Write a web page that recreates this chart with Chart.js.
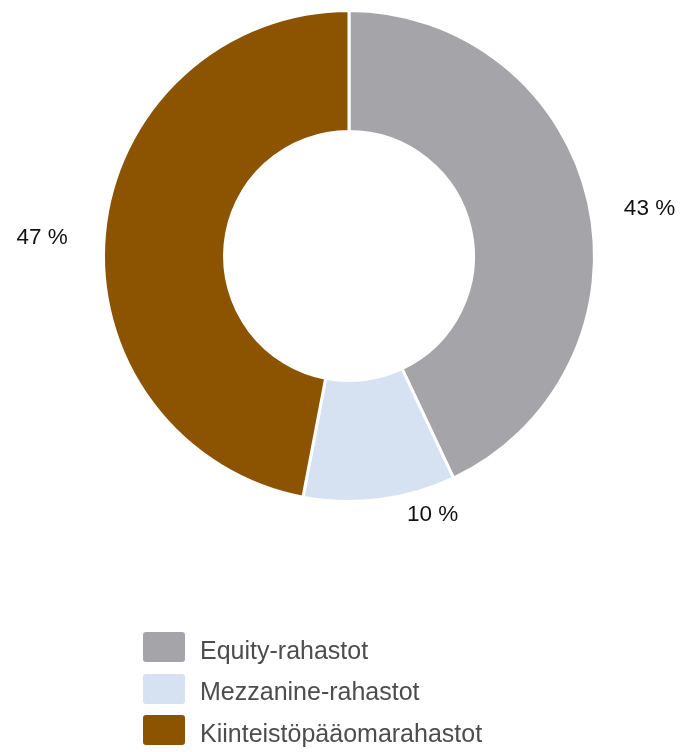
<!DOCTYPE html>
<html>
<head>
<meta charset="utf-8">
<script src="https://cdn.jsdelivr.net/npm/chart.js@4.4.1/dist/chart.umd.min.js"></script>
<style>
  html, body { margin: 0; padding: 0; background: #fff; }
  #wrap { position: relative; width: 686px; height: 752px; }
  #rahastot { position: absolute; left: 0; top: 0; }
  #selite { position: absolute; left: 143px; top: 632px; margin: 0; padding: 0; list-style: none;
            font-family: "Liberation Sans", Arial, sans-serif; font-size: 25px; color: #4d4d4d; }
  #selite li { display: flex; align-items: center; height: 30px; margin-bottom: 11.5px; }
  #selite li span.teksti { position: relative; top: 3px; }
  #selite span.laatikko { display: inline-block; width: 42px; height: 30px; border-radius: 3px; margin-right: 15px; }
</style>
</head>
<body>
<div id="wrap">
  <canvas id="rahastot" width="686" height="752"></canvas>
  <ul id="selite"></ul>
</div>
<script>
var luokat = ["Equity-rahastot", "Mezzanine-rahastot", "Kiinteistöpääomarahastot"];
var osuudet = [43, 10, 47];
var varit = ["#a5a4a8", "#d6e2f2", "#8c5400"];

// pienet siirrot prosenttiteksteille (x, y) ettei ne osu kaariin
var siirrot = [[6, 13], [49, -15], [-7, 8]];

var prosentit = {
    id: "prosentit",
    afterDatasetsDraw: function(chart){
        var ctx = chart.ctx;
        var kaaret = chart.getDatasetMeta(0).data;
        ctx.save();
        ctx.font = "22.5px 'Liberation Sans', Arial, sans-serif";
        ctx.fillStyle = "#111";
        ctx.textBaseline = "middle";
        for (let i = 0; i < kaaret.length; i++) {
            const k = kaaret[i];
            const kulma = (k.startAngle + k.endAngle) / 2;
            const r = k.outerRadius + 30;
            let x = k.x + Math.cos(kulma) * r;
            let y = k.y + Math.sin(kulma) * r;
            const c = Math.cos(kulma);
            if (c > 0.3) ctx.textAlign = "left";
            else if (c < -0.3) ctx.textAlign = "right";
            else ctx.textAlign = "center";
            x += siirrot[i][0];
            y += siirrot[i][1];
            ctx.fillText(osuudet[i] + " %", x, y);
        }
        ctx.restore();
    }
};

var ctx = document.getElementById("rahastot").getContext("2d");
var chart = new Chart(ctx, {
    type: "doughnut",
    data: {
        labels: luokat,
        datasets: [{
            data: osuudet,
            backgroundColor: varit,
            borderColor: "#ffffff",
            borderWidth: 3
        }]
    },
    options: {
        responsive: false,
        animation: false,
        cutout: "50.7%",
        layout: { padding: { left: 102, top: 9, right: 90, bottom: 249 } },
        plugins: {
            legend: { display: false },
            tooltip: { enabled: false }
        }
    },
    plugins: [prosentit]
});

// selite sivun alle
var lista = document.getElementById("selite");
chart.options.plugins.legend.labels.generateLabels(chart).forEach(function(item){
    var li = document.createElement("li");
    li.innerHTML = '<span class="laatikko" style="background:' + item.fillStyle + '"></span>' +
        '<span class="teksti">' + item.text + '</span>';
    lista.appendChild(li);
});
</script>
</body>
</html>
